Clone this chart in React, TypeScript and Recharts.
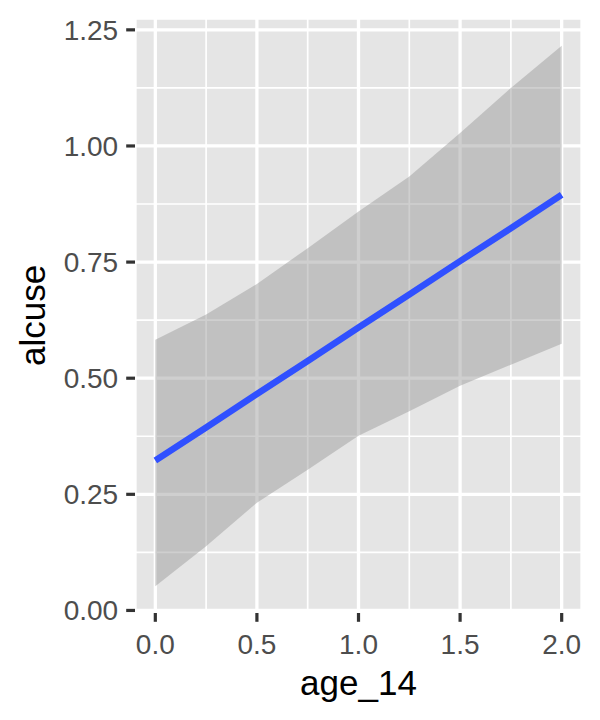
import {
  Area,
  CartesianGrid,
  ComposedChart,
  Line,
  XAxis,
  YAxis,
} from "recharts";

// age_14 vs alcuse — linear fit with 95% confidence band (ggplot look)

const AGE = [0, 0.25, 0.5, 0.75, 1, 1.25, 1.5, 1.75, 2];
const FIT = [0.323, 0.394, 0.466, 0.537, 0.609, 0.68, 0.752, 0.823, 0.895];
const LOWER = [0.052, 0.138, 0.232, 0.303, 0.376, 0.429, 0.484, 0.529, 0.574];
const UPPER = [0.583, 0.637, 0.703, 0.78, 0.859, 0.934, 1.028, 1.125, 1.216];

const X_TICKS = [0, 0.5, 1, 1.5, 2];
const X_MINOR = [0.25, 0.75, 1.25, 1.75];
const Y_TICKS = [0, 0.25, 0.5, 0.75, 1, 1.25];
const Y_MINOR = [0.125, 0.375, 0.625, 0.875, 1.125];

const X_DOMAIN: [number, number] = [-0.1, 2.1];
const Y_DOMAIN: [number, number] = [-0.0055, 1.2755];

const data = AGE.map((x, i) => ({
  x,
  fit: FIT[i],
  band: [LOWER[i], UPPER[i]] as [number, number],
}));

const FONT = "'Liberation Sans', Arial, Helvetica, sans-serif";
const tickStyle = { fontSize: 28, fill: "#4D4D4D", fontFamily: FONT };

export default function App() {
  return (
    <div style={{ position: "absolute", left: 0, top: 0, width: 600, height: 720, background: "#fff" }}>
      <ComposedChart
        width={600}
        height={720}
        data={data}
        margin={{ top: 18, right: 18, bottom: 0, left: 0 }}
        style={{ fontFamily: FONT }}
      >
        {/* minor grid on hidden axes */}
        <XAxis xAxisId="minor" dataKey="x" type="number" domain={X_DOMAIN} ticks={X_MINOR} hide allowDataOverflow />
        <YAxis yAxisId="minor" type="number" domain={Y_DOMAIN} ticks={Y_MINOR} hide allowDataOverflow />

        <CartesianGrid fill="#E5E5E5" stroke="#FFFFFF" strokeWidth={3.3} strokeDasharray="" />
        <CartesianGrid xAxisId="minor" yAxisId="minor" fill="none" stroke="#FFFFFF" strokeWidth={1.7} strokeDasharray="" />

        <XAxis
          dataKey="x" type="number" domain={X_DOMAIN} ticks={X_TICKS} allowDataOverflow
          tickFormatter={(v: number) => v.toFixed(1)}
          tick={tickStyle} axisLine={false}
          tickLine={{ stroke: "#333333", strokeWidth: 3.2 }} tickSize={8.8} tickMargin={12}
          height={107}
          label={{ value: "age_14", position: "insideBottom", offset: 25, fontSize: 35, fill: "#000000", fontFamily: FONT }}
        />
        <YAxis
          type="number" domain={Y_DOMAIN} ticks={Y_TICKS} allowDataOverflow
          tickFormatter={(v: number) => v.toFixed(2)}
          tick={tickStyle} axisLine={false}
          tickLine={{ stroke: "#333333", strokeWidth: 3.2 }} tickSize={8.8} tickMargin={8}
          width={135}
          label={{ value: "alcuse", angle: -90, position: "insideLeft", offset: 33, fontSize: 35, fill: "#000000", fontFamily: FONT, style: { textAnchor: "middle" } }}
        />

        <Area
          dataKey="band" type="linear"
          fill="#999999" fillOpacity={0.47} stroke="none"
          isAnimationActive={false} activeDot={false} dot={false}
        />
        <Line
          dataKey="fit" type="linear"
          stroke="#3050FF" strokeWidth={6.5}
          dot={false} activeDot={false}
          isAnimationActive={false}
        />
      </ComposedChart>
    </div>
  );
}
